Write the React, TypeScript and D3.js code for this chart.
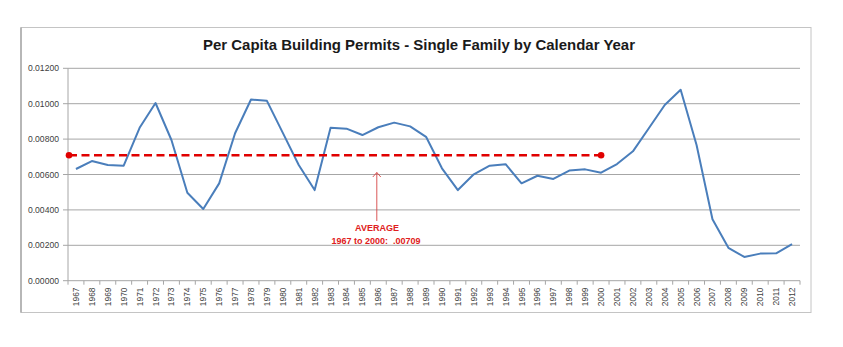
import React from "react";
import * as d3 from "d3";

const years: string[] = [
  "1967","1968","1969","1970","1971","1972","1973","1974","1975","1976",
  "1977","1978","1979","1980","1981","1982","1983","1984","1985","1986",
  "1987","1988","1989","1990","1991","1992","1993","1994","1995","1996",
  "1997","1998","1999","2000","2001","2002","2003","2004","2005","2006",
  "2007","2008","2009","2010","2011","2012",
];

const permits: number[] = [
  0.00631, 0.00676, 0.00654, 0.0065, 0.00864, 0.01004, 0.00795, 0.00497, 0.00405, 0.0055,
  0.00833, 0.01024, 0.01016, 0.00835, 0.00654, 0.00512, 0.00864, 0.00859, 0.00823, 0.00867,
  0.00893, 0.00872, 0.00813, 0.00635, 0.00512, 0.00601, 0.0065, 0.00658, 0.0055, 0.00593,
  0.00575, 0.00622, 0.00629, 0.0061, 0.00659, 0.00731, 0.00861, 0.00993, 0.01079, 0.00767,
  0.00347, 0.00186, 0.00134, 0.00153, 0.00155, 0.00207,
];

const yTicks: number[] = [0, 0.002, 0.004, 0.006, 0.008, 0.01, 0.012];

const averageValue = 0.00709;
const averageStart = "1967";
const averageEnd = "2000";
const arrowYear = "1986";

const title = "Per Capita Building Permits - Single Family by Calendar Year";
const annotation1 = "AVERAGE";
const annotation2 = "1967 to 2000:  .00709";

export default function App() {
  const W = 843;
  const H = 347;
  const left = 68;
  const right = 800;
  const top = 68.3;
  const bottom = 280.7;

  const x = d3.scaleBand<string>().domain(years).range([left, right]).padding(0);
  const y = d3.scaleLinear().domain([0, 0.012]).range([bottom, top]);
  const cx = (yr: string) => (x(yr) as number) + x.bandwidth() / 2;

  const line = d3
    .line<number>()
    .x((_, i) => cx(years[i]))
    .y((d) => y(d));

  const avgY = y(averageValue);
  const avgX1 = left + 1;
  const avgX2 = cx(averageEnd);
  const arrowX = cx(arrowYear) - 1.5;

  const font = "'Liberation Sans', Arial, sans-serif";
  const gridColor = "#a6a6a6";

  return (
    <svg
      width={W}
      height={H}
      style={{ position: "absolute", left: 0, top: 0, background: "#fff" }}
    >
      <rect x={21} y={27.5} width={790} height={285} fill="#fff" stroke="#c4c4c4" strokeWidth={1} />
      <line x1={21} x2={21} y1={27.5} y2={312.5} stroke="#a8a8a8" strokeWidth={1.5} />
      <text
        x={419}
        y={50}
        textAnchor="middle"
        fontFamily={font}
        fontWeight="bold"
        fontSize={15}
        fill="#1a1a1a"
        textLength={432}
        lengthAdjust="spacingAndGlyphs"
      >
        {title}
      </text>

      {yTicks.map((t) => (
        <g key={t}>
          <line x1={left} x2={right} y1={y(t)} y2={y(t)} stroke={gridColor} strokeWidth={1} />
          <line x1={left - 5} x2={left} y1={y(t)} y2={y(t)} stroke={gridColor} strokeWidth={1} />
          <text
            x={59}
            y={y(t)}
            dy="0.35em"
            textAnchor="end"
            fontFamily={font}
            fontSize={8.6}
            fill="#404040"
          >
            {t.toFixed(5)}
          </text>
        </g>
      ))}
      <line x1={left} x2={left} y1={top} y2={bottom} stroke={gridColor} strokeWidth={1} />

      {years.map((yr, i) => (
        <line
          key={"t" + yr}
          x1={(x(yr) as number)}
          x2={(x(yr) as number)}
          y1={bottom}
          y2={bottom + 4}
          stroke={gridColor}
          strokeWidth={1}
        />
      ))}
      <line x1={right} x2={right} y1={bottom} y2={bottom + 4} stroke={gridColor} strokeWidth={1} />

      {years.map((yr) => (
        <text
          key={"l" + yr}
          transform={`translate(${cx(yr) + 3},${287.5}) rotate(-90)`}
          textAnchor="end"
          fontFamily={font}
          fontSize={8.4}
          fill="#404040"
        >
          {yr}
        </text>
      ))}

      <path d={line(permits) || ""} fill="none" stroke="#4a7ebb" strokeWidth={2} strokeLinejoin="round" />

      <line
        x1={avgX1}
        x2={avgX2}
        y1={avgY}
        y2={avgY}
        stroke="#e00000"
        strokeWidth={2.5}
        strokeDasharray="8 4.5"
      />
      <circle cx={avgX1} cy={avgY} r={3.3} fill="#e00000" />
      <circle cx={avgX2} cy={avgY} r={3.3} fill="#e00000" />

      <line x1={arrowX} x2={arrowX} y1={172.5} y2={221} stroke="#d64545" strokeWidth={0.9} />
      <path
        d={`M${arrowX - 4},${177} L${arrowX},${172.5} L${arrowX + 4},${177}`}
        fill="none"
        stroke="#d64545"
        strokeWidth={0.9}
      />

      <text
        x={377}
        y={231}
        textAnchor="middle"
        fontFamily={font}
        fontWeight="bold"
        fontSize={9}
        fill="#e02020"
      >
        {annotation1}
      </text>
      <text
        x={376}
        y={244}
        textAnchor="middle"
        fontFamily={font}
        fontWeight="bold"
        fontSize={9}
        fill="#e02020"
        xmlSpace="preserve"
        style={{ whiteSpace: "pre" }}
      >
        {annotation2}
      </text>
    </svg>
  );
}
